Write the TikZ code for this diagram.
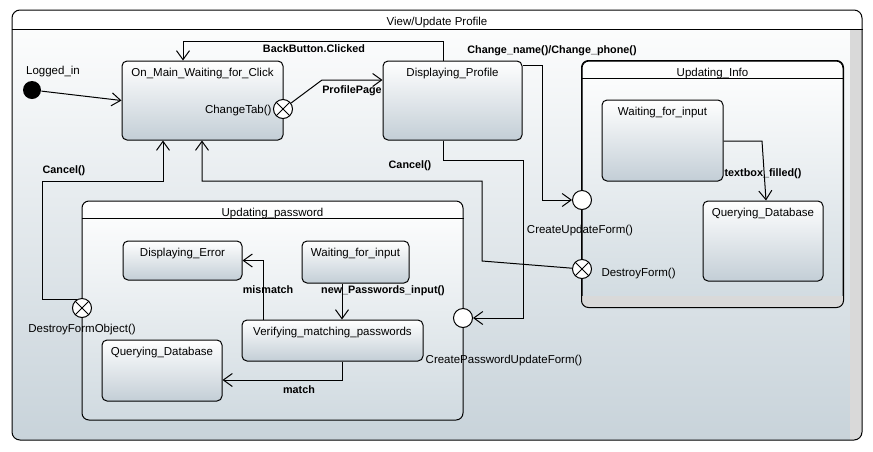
\documentclass[tikz,border=0pt]{standalone}
\usepackage{fontspec}
\setmainfont{Liberation Sans}
\usetikzlibrary{arrows.meta}
\definecolor{boxc}{HTML}{C3CED6}
\definecolor{bgc}{HTML}{C8D3DA}
\definecolor{compc}{HTML}{D0DAE0}
\definecolor{barc}{HTML}{D9D9D9}
\begin{document}
\begin{tikzpicture}[x=1pt,y=-1pt,line width=1pt,
  lab/.style={font=\fontsize{11.5}{13}\selectfont,text height=8.5pt,text depth=2.5pt,inner sep=1pt},
  blab/.style={lab,font=\fontsize{10.8}{13}\selectfont\bfseries},
  state/.style={draw,rounded corners=5pt,top color=white,bottom color=boxc,inner sep=0pt},
  comp/.style={draw,rounded corners=7pt,top color=white,bottom color=compc,inner sep=0pt},
  ttl/.style={label={[lab,anchor=center,yshift=-12.5pt]north:#1}},
  port/.style={draw,circle,fill=white,minimum size=19pt,inner sep=0pt},
  xport/.style={port,path picture={\draw (path picture bounding box.north west)--(path picture bounding box.south east) (path picture bounding box.north east)--(path picture bounding box.south west);}},
  tr/.style={-{Straight Barb[length=9pt,width=13pt]}}]
\useasboundingbox (0,0) rectangle (873,451);
\begin{scope}
\clip[rounded corners=8pt] (12,10) rectangle (862,440);
\shade[top color=white!94!bgc,bottom color=bgc] (12,29) rectangle (862,440);
\fill[barc] (850,29) rectangle (862,440);
\end{scope}
\node[draw,rounded corners=8pt,minimum width=850pt,minimum height=430pt,inner sep=0pt] (frame) at (437,225) {};
\draw (frame.north west |- 0,29) -- (frame.north east |- 0,29);
\node[lab] (title) at (437,22) {View/Update Profile};

\node[comp,ttl=Updating\_password,minimum width=381pt,minimum height=219pt] (pw) at (272.5,310.5) {};
\draw ([yshift=-18pt]pw.north west) -- ([yshift=-18pt]pw.north east);
\node[comp,ttl=Updating\_Info,minimum width=261pt,minimum height=246pt] (info) at (712.5,184) {};
\begin{scope}
\clip[rounded corners=7pt] (info.north west) rectangle (info.south east);
\fill[barc] ([yshift=12pt]info.south west) rectangle (info.south east);
\end{scope}
\draw[rounded corners=7pt] (info.north west) rectangle (info.south east);
\draw ([yshift=-18pt]info.north west) -- ([yshift=-18pt]info.north east);

\node[state,ttl=On\_Main\_Waiting\_for\_Click,minimum width=161pt,minimum height=79pt] (main) at (202.5,100.5) {};
\node[state,ttl=Displaying\_Profile,minimum width=139pt,minimum height=79pt] (prof) at (452.5,100.5) {};
\node[state,ttl=Waiting\_for\_input,minimum width=121pt,minimum height=81pt] (wfi) at (662.5,140.5) {};
\node[state,ttl=Querying\_Database,minimum width=120pt,minimum height=80pt] (qdi) at (763,241) {};
\node[state,ttl=Displaying\_Error,minimum width=119pt,minimum height=39pt] (de) at (182.5,260.5) {};
\node[state,ttl=Waiting\_for\_input,minimum width=107pt,minimum height=42pt] (wfp) at (355.5,262) {};
\node[state,ttl=Verifying\_matching\_passwords,minimum width=181pt,minimum height=41pt] (vmp) at (332.5,340.5) {};
\node[state,ttl=Querying\_Database,minimum width=120pt,minimum height=61pt] (qdp) at (162,370.5) {};

\node[circle,fill=black,minimum size=18pt,inner sep=0pt] (init) at (32,90) {};
\node[xport] (ct) at (283,109) {};
\node[port] (cuf) at (582,200) {};
\node[xport] (df) at (582,269) {};
\node[port] (cpf) at (463,318) {};
\node[xport] (dfo) at (82,308) {};

\draw[tr] (init) -- (main.west);
\draw[tr] (ct) -- (322,80) -- (prof.west |- 0,80);
\draw[tr] (prof.north -| 443,0) |- (183,41) -- (main.north -| 183,0);
\draw[tr] (prof.east |- 0,65) -- (542,65) |- (cuf.west);
\draw[tr] (prof.south -| 443,0) |- (523,160) |- (cpf.east);
\draw[tr] (df) -- (482,261) |- (202,181) -- (main.south -| 202,0);
\draw[tr] (dfo.123) -| (42,181) -| (main.south -| 163,0);
\draw[tr] (wfi.east |- 0,141) -- (762,141) -- (qdi.north -| 766,0);
\draw[tr] (wfp.south -| 342,0) -- (vmp.north -| 342,0);
\draw[tr] (vmp.north -| 263,0) |- (de.east);
\draw[tr] (vmp.south -| 342,0) |- (qdp.east |- 0,380);

\node[lab] (llog) at (53,71) {Logged\_in};
\node[lab,anchor=east] (lct) at (273,110) {ChangeTab()};
\node[lab] (lcuf) at (580,230) {CreateUpdateForm()};
\node[lab,anchor=west] (ldf) at (600,273) {DestroyForm()};
\node[lab] (lcpf) at (504,360) {CreatePasswordUpdateForm()};
\node[lab] (ldfo) at (82,329) {DestroyFormObject()};
\node[blab] (lprof) at (352,90) {ProfilePage};
\node[blab] (lback) at (314,49) {BackButton.Clicked};
\node[blab] (lchg) at (552,50) {Change\_name()/Change\_phone()};
\node[blab] (lcan1) at (410,165) {Cancel()};
\node[blab] (lcan2) at (64,170) {Cancel()};
\node[blab] (ltxt) at (763,173) {textbox\_filled()};
\node[blab] (lmis) at (268,290) {mismatch};
\node[blab] (lnew) at (383,290) {new\_Passwords\_input()};
\node[blab] (lmat) at (299,390) {match};
\end{tikzpicture}
\end{document}
